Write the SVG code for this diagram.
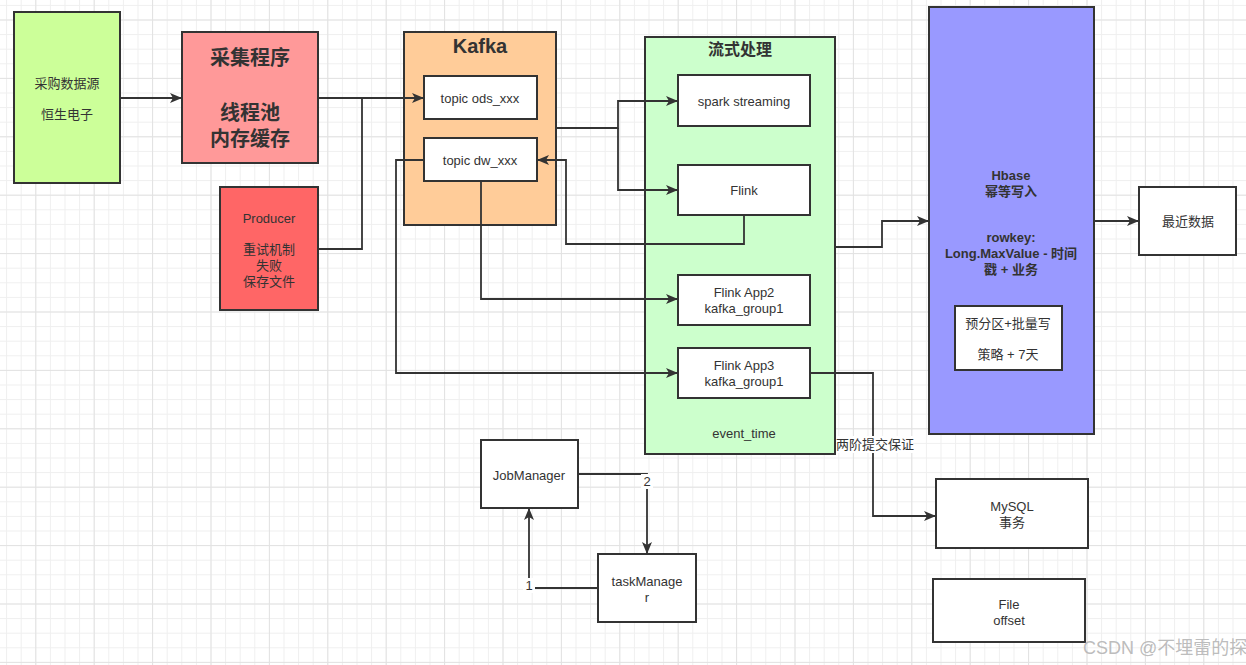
<svg xmlns="http://www.w3.org/2000/svg" width="1246" height="665" viewBox="0 0 1246 665">
<defs>
<pattern id="minor" x="35.3" y="19.5" width="14.6" height="14.6" patternUnits="userSpaceOnUse">
<path d="M0,0.5 H14.6 M0.5,0 V14.6" stroke="#efefef" stroke-width="1" fill="none"/>
</pattern>
<pattern id="major" x="35.3" y="19.5" width="58.4" height="58.4" patternUnits="userSpaceOnUse">
<path d="M0,0.5 H58.4 M0.5,0 V58.4" stroke="#e2e2e2" stroke-width="1" fill="none"/>
</pattern>
<marker id="arr" markerUnits="userSpaceOnUse" markerWidth="12" markerHeight="10" refX="11" refY="5" orient="auto">
<path d="M0,0 L12,5 L0,10 L3,5 Z" fill="#333"/>
</marker>
</defs>
<style>
.box{stroke:#333;stroke-width:2}
.t{font-family:"Liberation Sans","Noto Sans CJK SC",sans-serif;font-size:13px;fill:#333;text-anchor:middle;dominant-baseline:central}
.b{font-weight:bold}
.big{font-size:20px;font-weight:bold}
.e{fill:none;stroke:#333;stroke-width:1.8}
.ea{marker-end:url(#arr)}
.lbl{fill:#fff}
</style>
<rect width="1246" height="665" fill="#fff"/>
<rect width="1246" height="665" fill="url(#minor)"/>
<rect width="1246" height="665" fill="url(#major)"/>

<g id="source">
<rect class="box" x="14" y="12" width="106" height="171" fill="#CCFF99"/>
<text class="t" x="67" y="83">采购数据源</text>
<text class="t" x="67" y="114">恒生电子</text>
</g>

<g id="collector">
<rect class="box" x="182" y="32" width="136" height="131" fill="#FF9999"/>
<text class="t big" x="250" y="58">采集程序</text>
<text class="t big" x="250" y="113">线程池</text>
<text class="t big" x="250" y="139">内存缓存</text>
</g>

<g id="producer">
<rect class="box" x="220" y="187" width="98" height="123" fill="#FF6666"/>
<text class="t" x="269" y="218">Producer</text>
<text class="t" x="269" y="249">重试机制</text>
<text class="t" x="269" y="265">失败</text>
<text class="t" x="269" y="281">保存文件</text>
</g>

<g id="kafka">
<rect class="box" x="404" y="32" width="152" height="193" fill="#FFCC99"/>
<text class="t big" x="480" y="46">Kafka</text>
</g>

<g id="topic-ods">
<rect class="box" x="424" y="76" width="113" height="43" fill="#fff"/>
<text class="t" x="480" y="98">topic ods_xxx</text>
</g>

<g id="topic-dw">
<rect class="box" x="424" y="138" width="113" height="43" fill="#fff"/>
<text class="t" x="480" y="160">topic dw_xxx</text>
</g>

<g id="stream">
<rect class="box" x="645" y="37" width="190" height="417" fill="#CCFFCC"/>
<text class="t b" style="font-size:16px" x="740" y="49">流式处理</text>
<text class="t" x="744" y="433">event_time</text>
</g>

<g id="spark">
<rect class="box" x="678" y="75" width="132" height="51" fill="#fff"/>
<text class="t" x="744" y="101">spark streaming</text>
</g>

<g id="flink">
<rect class="box" x="678" y="165" width="132" height="50" fill="#fff"/>
<text class="t" x="744" y="190">Flink</text>
</g>

<g id="flink-app2">
<rect class="box" x="678" y="275" width="132" height="50" fill="#fff"/>
<text class="t" x="744" y="292">Flink App2</text>
<text class="t" x="744" y="308">kafka_group1</text>
</g>

<g id="flink-app3">
<rect class="box" x="678" y="348" width="132" height="50" fill="#fff"/>
<text class="t" x="744" y="365">Flink App3</text>
<text class="t" x="744" y="381">kafka_group1</text>
</g>

<g id="hbase">
<rect class="box" x="929" y="7" width="165" height="427" fill="#9999FF"/>
<text class="t b" x="1011" y="175">Hbase</text>
<text class="t b" x="1011" y="191">幂等写入</text>
<text class="t b" x="1011" y="237">rowkey:</text>
<text class="t b" x="1011" y="253">Long.MaxValue - 时间</text>
<text class="t b" x="1011" y="269">戳 + 业务</text>
</g>

<g id="prepartition">
<rect class="box" x="955" y="306" width="107" height="64" fill="#fff"/>
<text class="t" x="1008" y="323">预分区+批量写</text>
<text class="t" x="1008" y="354">策略 + 7天</text>
</g>

<g id="recent">
<rect class="box" x="1139" y="187" width="97" height="68" fill="#fff"/>
<text class="t" x="1188" y="221">最近数据</text>
</g>

<g id="jobmanager">
<rect class="box" x="481" y="440" width="97" height="68" fill="#fff"/>
<text class="t" x="529" y="475">JobManager</text>
</g>

<g id="taskmanager">
<rect class="box" x="598" y="554" width="98" height="68" fill="#fff"/>
<text class="t" x="647" y="581">taskManage</text>
<text class="t" x="647" y="597">r</text>
</g>

<g id="mysql">
<rect class="box" x="936" y="479" width="152" height="69" fill="#fff"/>
<text class="t" x="1012" y="506">MySQL</text>
<text class="t" x="1012" y="522">事务</text>
</g>

<g id="file">
<rect class="box" x="933" y="579" width="152" height="63" fill="#fff"/>
<text class="t" x="1009" y="604">File</text>
<text class="t" x="1009" y="620">offset</text>
</g>

<g id="connectors">
<path class="e ea" d="M120,98 H181"/>
<path class="e ea" d="M318,98 H423"/>
<path class="e" d="M318,249 H362 V98"/>
<path class="e ea" d="M556,128 H618 V101 H677"/>
<path class="e ea" d="M618,128 V190 H677"/>
<path class="e ea" d="M744,215 V244 H566 V160 H538"/>
<path class="e ea" d="M481,181 V299 H677"/>
<path class="e ea" d="M424,160 H396 V373 H677"/>
<path class="e ea" d="M835,247 H882 V221 H928"/>
<path class="e ea" d="M810,373 H873 V516 H935"/>
<path class="e ea" d="M1094,221 H1138"/>
<path class="e ea" d="M578,474 H647 V553"/>
<path class="e ea" d="M598,588 H529 V509"/>
<rect class="lbl" x="837" y="436" width="76" height="17"/>
<text class="t" x="875" y="444">两阶提交保证</text>
<rect class="lbl" x="641" y="474" width="12" height="15"/>
<text class="t" x="647" y="481">2</text>
<rect class="lbl" x="523" y="578" width="12" height="15"/>
<text class="t" x="529" y="585">1</text>
</g>

<text x="1083" y="654" style="font-family:'Liberation Sans','Noto Sans CJK SC',sans-serif;font-size:18px;fill:#b4b4b4;fill-opacity:0.9">CSDN @不埋雷的探</text>
</svg>
